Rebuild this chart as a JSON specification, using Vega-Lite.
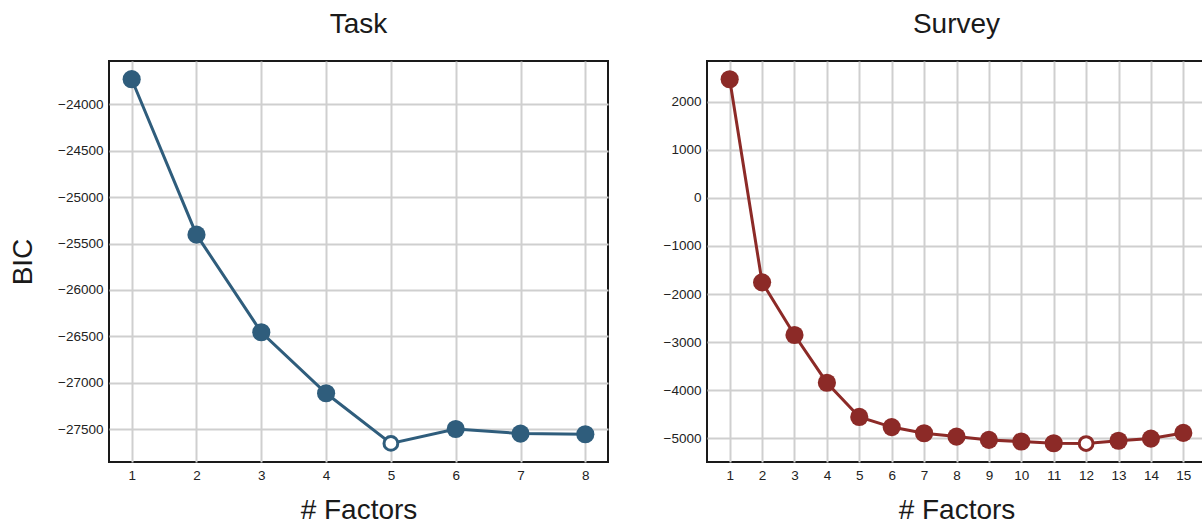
{
  "$schema": "https://vega.github.io/schema/vega-lite/v6.json",
  "background": "white",
  "padding": {"left": 8, "top": 10, "right": 0, "bottom": 0},
  "config": {
    "font": "Liberation Sans",
    "view": {"stroke": "#1a1a1a", "strokeWidth": 2},
    "axis": {
      "grid": true, "gridColor": "#cfcfcf", "gridWidth": 2, "ticks": false, "domain": false,
      "labelFont": "Liberation Sans", "labelFontSize": 13.5, "labelColor": "#222222", "labelPadding": 6,
      "titleFont": "Liberation Sans", "titleFontSize": 28, "titleFontWeight": "normal", "titleColor": "#1a1a1a"
    },
    "title": {"font": "Liberation Sans", "fontSize": 28, "fontWeight": "normal", "color": "#1a1a1a", "offset": 22},
    "concat": {"spacing": 53}
  },
  "datasets": {
    "task": [
      {"k": 1, "bic": -23731, "best": false},
      {"k": 2, "bic": -25405, "best": false},
      {"k": 3, "bic": -26455, "best": false},
      {"k": 4, "bic": -27112, "best": false},
      {"k": 5, "bic": -27652, "best": true},
      {"k": 6, "bic": -27497, "best": false},
      {"k": 7, "bic": -27546, "best": false},
      {"k": 8, "bic": -27553, "best": false}
    ],
    "survey": [
      {"k": 1, "bic": 2472, "best": false},
      {"k": 2, "bic": -1757, "best": false},
      {"k": 3, "bic": -2854, "best": false},
      {"k": 4, "bic": -3847, "best": false},
      {"k": 5, "bic": -4560, "best": false},
      {"k": 6, "bic": -4771, "best": false},
      {"k": 7, "bic": -4900, "best": false},
      {"k": 8, "bic": -4969, "best": false},
      {"k": 9, "bic": -5038, "best": false},
      {"k": 10, "bic": -5072, "best": false},
      {"k": 11, "bic": -5107, "best": false},
      {"k": 12, "bic": -5114, "best": true},
      {"k": 13, "bic": -5055, "best": false},
      {"k": 14, "bic": -5010, "best": false},
      {"k": 15, "bic": -4893, "best": false}
    ]
  },
  "hconcat": [
    {
      "title": "Task",
      "width": 499,
      "height": 401,
      "data": {"name": "task"},
      "encoding": {
        "x": {"field": "k", "type": "quantitative",
              "scale": {"domain": [0.65, 8.35], "nice": false, "zero": false},
              "axis": {"values": [1, 2, 3, 4, 5, 6, 7, 8], "format": "d", "title": "# Factors", "titlePadding": 15}},
        "y": {"field": "bic", "type": "quantitative",
              "scale": {"domain": [-27852, -23535], "nice": false, "zero": false},
              "axis": {"values": [-27500, -27000, -26500, -26000, -25500, -25000, -24500, -24000], "format": "d", "title": "BIC", "titlePadding": 20}}
      },
      "layer": [
        {"mark": {"type": "line", "color": "#2f5d7c", "strokeWidth": 3}},
        {"transform": [{"filter": "!datum.best"}],
         "mark": {"type": "circle", "color": "#2f5d7c", "size": 330, "opacity": 1}},
        {"transform": [{"filter": "datum.best"}],
         "mark": {"type": "circle", "fill": "white", "stroke": "#2f5d7c", "strokeWidth": 3, "size": 190, "opacity": 1}}
      ]
    },
    {
      "title": "Survey",
      "width": 499,
      "height": 401,
      "data": {"name": "survey"},
      "encoding": {
        "x": {"field": "k", "type": "quantitative",
              "scale": {"domain": [0.3, 15.7], "nice": false, "zero": false},
              "axis": {"values": [1, 2, 3, 4, 5, 6, 7, 8, 9, 10, 11, 12, 13, 14, 15], "format": "d", "title": "# Factors", "titlePadding": 15}},
        "y": {"field": "bic", "type": "quantitative",
              "scale": {"domain": [-5498, 2852], "nice": false, "zero": false},
              "axis": {"values": [-5000, -4000, -3000, -2000, -1000, 0, 1000, 2000], "format": "d", "title": null}}
      },
      "layer": [
        {"mark": {"type": "line", "color": "#8c2a27", "strokeWidth": 3}},
        {"transform": [{"filter": "!datum.best"}],
         "mark": {"type": "circle", "color": "#8c2a27", "size": 330, "opacity": 1}},
        {"transform": [{"filter": "datum.best"}],
         "mark": {"type": "circle", "fill": "white", "stroke": "#8c2a27", "strokeWidth": 3, "size": 190, "opacity": 1}}
      ]
    }
  ]
}
